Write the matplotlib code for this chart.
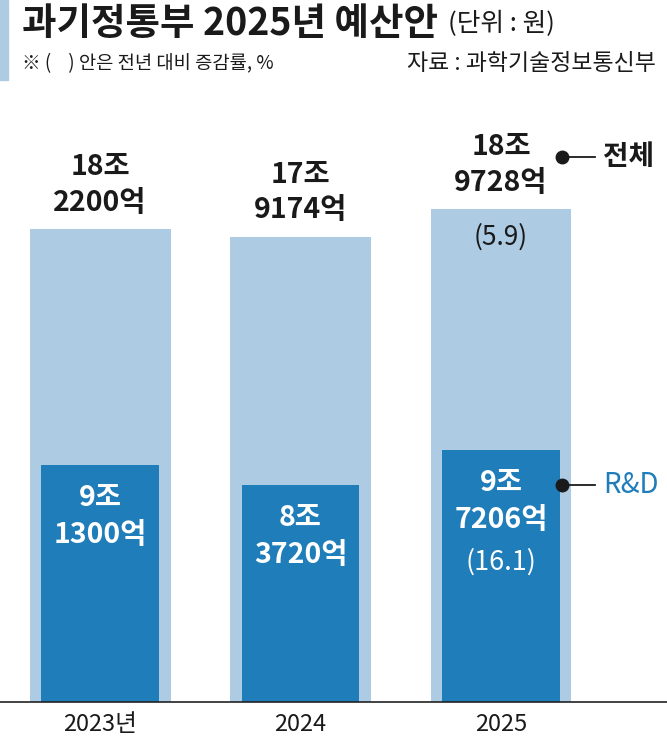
import matplotlib
matplotlib.use("Agg")
import matplotlib.pyplot as plt
from matplotlib.patches import Rectangle

plt.rcParams['font.family'] = ['Noto Sans CJK KR', 'DejaVu Sans']

years = ["2023년", "2024", "2025"]
total = [18.22, 17.9174, 18.9728]          # 조 원
rnd = [9.13, 8.372, 9.7206]                 # 조 원
total_labels = ["18조\n2200억", "17조\n9174억", "18조\n9728억"]
rnd_labels = ["9조\n1300억", "8조\n3720억", "9조\n7206억"]
total_growth = [None, None, "(5.9)"]
rnd_growth = [None, None, "(16.1)"]

LIGHT = "#adcbe3"
DARK = "#1f7dba"
INK = "#1a1a1a"

W, H = 667, 750
fig = plt.figure(figsize=(W / 100, H / 100), dpi=100)

ax_bottom_px = 702
ax_top_px = 100
ax = fig.add_axes([0, (H - ax_bottom_px) / H, 1, (ax_bottom_px - ax_top_px) / H])
px_per_unit = 25.96
ax.set_ylim(0, (ax_bottom_px - ax_top_px) / px_per_unit)
ax.set_xlim(-0.499, 2.828)

x = list(range(len(years)))
ax.bar(x, total, width=0.703, color=LIGHT, zorder=1)
ax.bar(x, rnd, width=0.584, color=DARK, zorder=2)

for s in ['top', 'right', 'left']:
    ax.spines[s].set_visible(False)
ax.spines['bottom'].set_color('#222222')
ax.spines['bottom'].set_linewidth(1.2)
ax.set_yticks([])
ax.set_xticks(x)
ax.set_xticklabels(years, fontsize=17, color=INK)
ax.tick_params(axis='x', length=0, pad=8)

for i in x:
    ax.annotate(total_labels[i], (i, total[i]), xytext=(0, 9), textcoords='offset points',
                ha='center', va='bottom', fontsize=20.5, fontweight='bold', color=INK,
                linespacing=1.35)
    ax.annotate(rnd_labels[i], (i, rnd[i]), xytext=(0, -14), textcoords='offset points',
                ha='center', va='top', fontsize=20.5, fontweight='bold', color='white',
                linespacing=1.4)
    if total_growth[i]:
        ax.annotate(total_growth[i], (i, total[i]), xytext=(0, -20), textcoords='offset points',
                    ha='center', va='center', fontsize=19, color=INK)
    if rnd_growth[i]:
        ax.annotate(rnd_growth[i], (i, rnd[i]), xytext=(0, -81), textcoords='offset points',
                    ha='center', va='center', fontsize=19.5, color='white')

def px2data(px, py):
    xd = -0.499 + px / 200.5
    yd = (ax_bottom_px - py) / px_per_unit
    return xd, yd

for py, label, col, fw in [(157, "전체", INK, 'bold'), (485, "R&D", DARK, 'normal')]:
    x0, y0 = px2data(562, py)
    x1, _ = px2data(595, py)
    ax.plot([x0, x1], [y0, y0], color=INK, lw=1.3, clip_on=False, zorder=5)
    ax.plot([x0], [y0], 'o', color=INK, ms=9, clip_on=False, zorder=6)
    xt, _ = px2data(603, py)
    ax.text(xt, y0, label, ha='left', va='center', fontsize=20, fontweight=fw, color=col)

fig.patches.append(Rectangle((0, 1 - 80 / H), 8 / W, 80 / H, transform=fig.transFigure,
                             color=LIGHT, zorder=0))
fig.text(22 / W, 1 - 23 / H, "과기정통부 2025년 예산안", fontsize=27, fontweight='bold',
         color=INK, ha='left', va='center')
fig.text(448 / W, 1 - 24 / H, "(단위 : 원)", fontsize=18.5, color=INK,
         ha='left', va='center')
fig.text(22 / W, 1 - 64 / H, "※ (    ) 안은 전년 대비 증감률, %", fontsize=13.5,
         color=INK, ha='left', va='center')
fig.text(656 / W, 1 - 64 / H, "자료 : 과학기술정보통신부", fontsize=16.5,
         color=INK, ha='right', va='center')

fig.savefig("out.png", dpi=100)
